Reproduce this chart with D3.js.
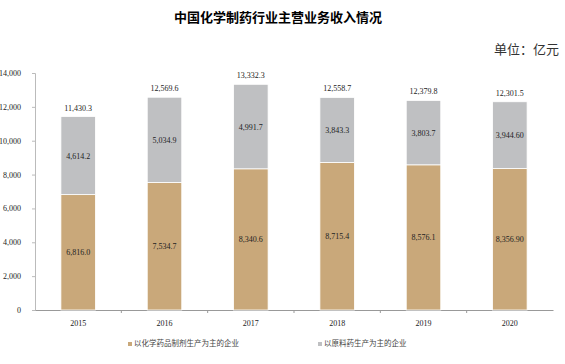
<!DOCTYPE html>
<meta charset="utf-8">
<script src="https://d3js.org/d3.v7.min.js"></script>
<style>
  body { margin: 0; background: #fff; }
  text { font-family: "Liberation Serif", "Times New Roman", serif; }
  .cjk { font-family: "Noto Sans CJK SC", sans-serif; }
</style>
<div id="chart"></div>
<script>
// data, 亿元
var years = ["2015", "2016", "2017", "2018", "2019", "2020"];
var preparation = [6816.0, 7534.7, 8340.6, 8715.4, 8576.1, 8356.9];
var rawMaterial = [4614.2, 5034.9, 4991.7, 3843.3, 3803.7, 3944.6];
var totals = [11430.3, 12569.6, 13332.3, 12558.7, 12379.8, 12301.5];
var prepDecimals = [1, 1, 1, 1, 1, 2];
var rawDecimals = [1, 1, 1, 1, 1, 2];
var seriesNames = ["以化学药品制剂生产为主的企业", "以原料药生产为主的企业"];
var yTicks = [0, 2000, 4000, 6000, 8000, 10000, 12000, 14000];

var W = 565, H = 364;
var margin = {top: 73, right: 12, bottom: 54, left: 35};
var width = W - margin.left - margin.right,
    height = H - margin.top - margin.bottom;
var colors = ["#c9a87a", "#bfc0c2"];

var svg = d3.select("#chart").append("svg")
    .attr("width", W).attr("height", H);

// title
svg.append("text").attr("class", "cjk")
    .attr("x", 278).attr("y", 22)
    .attr("text-anchor", "middle")
    .style("font-size", "13px").style("font-weight", "bold")
    .text("中国化学制药行业主营业务收入情况");

svg.append("text").attr("class", "cjk")
    .attr("x", 559).attr("y", 54)
    .attr("text-anchor", "end")
    .style("font-size", "13px").style("fill", "#333")
    .text("单位：亿元");

var g = svg.append("g")
    .attr("transform", "translate(" + margin.left + "," + margin.top + ")");

var x = d3.scaleBand().domain(years).range([0, width]).paddingInner(0.6).paddingOuter(0.3);
var y = d3.scaleLinear().domain([0, 14000]).range([height, 0]);

var rows = years.map(function(yr, i) {
  return {year: yr, prep: preparation[i], raw: rawMaterial[i], total: totals[i],
          pd: prepDecimals[i], rd: rawDecimals[i]};
});

// y axis
var yAxis = g.append("g").call(d3.axisLeft(y).tickValues(yTicks).tickFormat(d3.format(",")).tickSize(3));
yAxis.select(".domain").attr("stroke", "#bbb");
yAxis.selectAll(".tick line").attr("stroke", "#bbb");
yAxis.selectAll("text").attr("x", -14).style("font-size", "8px").style("font-family", "Liberation Serif").attr("fill", "#222");

// x axis with ticks between categories
var xAxis = g.append("g").attr("transform", "translate(0," + height + ")")
    .call(d3.axisBottom(x).tickSize(0).tickPadding(10));
xAxis.select(".domain").attr("stroke", "#999");
xAxis.selectAll("text").style("font-size", "8px").style("font-family", "Liberation Serif").attr("fill", "#222");
var step = x.step();
g.selectAll(".sep").data(years.slice(1)).enter().append("line")
    .attr("x1", function(d) { return x(d) - (step - x.bandwidth()) / 2; })
    .attr("x2", function(d) { return x(d) - (step - x.bandwidth()) / 2; })
    .attr("y1", height).attr("y2", height + 3)
    .attr("stroke", "#999");

// bars
g.selectAll(".prep").data(rows).enter().append("rect")
    .attr("x", function(d) { return x(d.year); })
    .attr("width", x.bandwidth())
    .attr("y", function(d) { return y(d.prep); })
    .attr("height", function(d) { return y(0) - y(d.prep); })
    .attr("fill", colors[0]).attr("stroke", "#fff").attr("stroke-width", 0.8);

g.selectAll(".raw").data(rows).enter().append("rect")
    .attr("x", function(d) { return x(d.year); })
    .attr("width", x.bandwidth())
    .attr("y", function(d) { return y(d.prep + d.raw); })
    .attr("height", function(d) { return y(d.prep) - y(d.prep + d.raw); })
    .attr("fill", colors[1]).attr("stroke", "#fff").attr("stroke-width", 0.8);

// labels
var cx = function(d) { return x(d.year) + x.bandwidth() / 2; };
g.selectAll(".lp").data(rows).enter().append("text")
    .attr("x", cx).attr("y", function(d) { return y(d.prep / 2) + 3; })
    .attr("text-anchor", "middle").style("font-size", "8px").attr("fill", "#222")
    .text(function(d) { return d3.format(",." + d.pd + "f")(d.prep); });
g.selectAll(".lr").data(rows).enter().append("text")
    .attr("x", cx).attr("y", function(d) { return y(d.prep + d.raw / 2) + 3; })
    .attr("text-anchor", "middle").style("font-size", "8px").attr("fill", "#222")
    .text(function(d) { return d3.format(",." + d.rd + "f")(d.raw); });
g.selectAll(".lt").data(rows).enter().append("text")
    .attr("x", cx).attr("y", function(d) { return y(d.total) - 6; })
    .attr("text-anchor", "middle").style("font-size", "8px").attr("fill", "#222")
    .text(function(d) { return d3.format(",.1f")(d.total); });

// legend
var legendX = [128, 318];
var lg = svg.selectAll(".leg").data(seriesNames).enter().append("g")
    .attr("transform", function(d, i) { return "translate(" + legendX[i] + ",346)"; });
lg.append("rect").attr("x", 0).attr("y", -4).attr("width", 4).attr("height", 4)
    .attr("fill", function(d, i) { return colors[i]; });
lg.append("text").attr("class", "cjk").attr("x", 6).attr("y", 0)
    .style("font-size", "7.5px").attr("fill", "#444")
    .text(function(d) { return d; });
</script>
